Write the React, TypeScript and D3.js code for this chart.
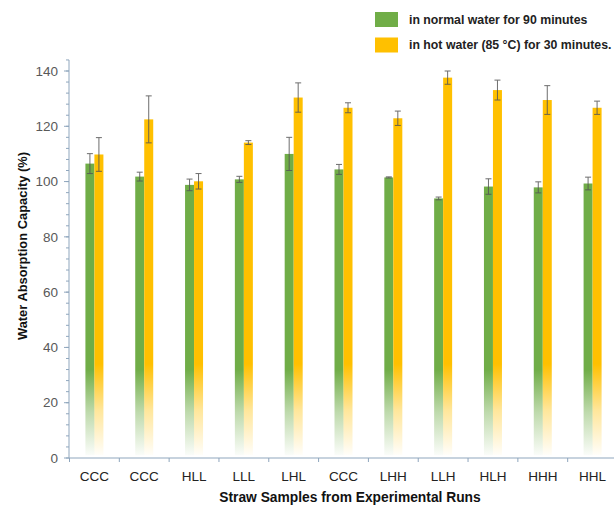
import React from "react";
import * as d3 from "d3";

const categories = ["CCC", "CCC", "HLL", "LLL", "LHL", "CCC", "LHH", "LLH", "HLH", "HHH", "HHL"];
const normalValues = [106.5, 101.8, 98.8, 100.8, 110.0, 104.4, 101.5, 93.9, 98.2, 97.9, 99.3];
const normalErrors = [3.6, 1.6, 2.1, 1.1, 6.0, 1.8, 0.2, 0.5, 2.8, 2.0, 2.3];
const hotValues = [109.8, 122.5, 100.1, 114.1, 130.4, 126.7, 122.9, 137.6, 133.1, 129.5, 126.7];
const hotErrors = [6.1, 8.5, 2.8, 0.7, 5.3, 1.8, 2.6, 2.4, 3.6, 5.2, 2.4];
const yTicks = [0, 20, 40, 60, 80, 100, 120, 140];
const legendLabels = ["in normal water for 90 minutes", "in hot water (85 °C) for 30 minutes."];

const GREEN = "#70AD47";
const YELLOW = "#FFC000";

export default function App() {
  const W = 614, H = 515;
  const y = d3.scaleLinear().domain([0, 140]).range([458, 71]);
  const x = d3.scaleBand<number>().domain(categories.map((_, i) => i)).range([69.5, 617.5]).padding(0);
  const bw = 9;
  const minor = d3.range(0, 145, 4);
  const font = "'Liberation Sans', Arial, sans-serif";

  const series = [
    { vals: normalValues, errs: normalErrors, color: GREEN, id: "gG", off: -bw },
    { vals: hotValues, errs: hotErrors, color: YELLOW, id: "gY", off: 0 },
  ];

  return (
    <svg width={W} height={H} style={{ position: "absolute", left: 0, top: 0, background: "#fff" }} fontFamily={font}>
      <defs>
        <linearGradient id="gG" gradientUnits="userSpaceOnUse" x1="0" x2="0" y1={y(32)} y2={y(1)}>
          <stop offset="0" stopColor={GREEN} stopOpacity={1} />
          <stop offset="0.5" stopColor={GREEN} stopOpacity={0.45} />
          <stop offset="1" stopColor={GREEN} stopOpacity={0.03} />
        </linearGradient>
        <linearGradient id="gY" gradientUnits="userSpaceOnUse" x1="0" x2="0" y1={y(34)} y2={y(1)}>
          <stop offset="0" stopColor={YELLOW} stopOpacity={1} />
          <stop offset="0.5" stopColor={YELLOW} stopOpacity={0.4} />
          <stop offset="1" stopColor={YELLOW} stopOpacity={0.02} />
        </linearGradient>
      </defs>

      {/* y axis */}
      <line x1={69} x2={69} y1={y(144)} y2={458} stroke="#8FA6BD" strokeWidth={1} />
      {minor.map((t) => (
        <line key={"m" + t} x1={66} x2={69} y1={y(t)} y2={y(t)} stroke="#8FA6BD" strokeWidth={1} />
      ))}
      {yTicks.map((t) => (
        <g key={"t" + t}>
          <line x1={64} x2={69} y1={y(t)} y2={y(t)} stroke="#8FA6BD" strokeWidth={1} />
          <text x={58} y={y(t)} dy="0.35em" textAnchor="end" fontSize={13.5} fill="#595959">{t}</text>
        </g>
      ))}

      {/* x axis */}
      <line x1={69} x2={614} y1={458} y2={458} stroke="#8FA6BD" strokeWidth={1} />
      {categories.map((c, i) => (
        <g key={"x" + i}>
          <line x1={(x(i) as number)} x2={(x(i) as number)} y1={458} y2={462} stroke="#8FA6BD" strokeWidth={1} />
          <text x={(x(i) as number) + x.bandwidth() / 2} y={481} textAnchor="middle" fontSize={13.5} fill="#222">{c}</text>
        </g>
      ))}

      {/* bars */}
      {series.map((s) =>
        s.vals.map((v, i) => {
          const cx = (x(i) as number) + x.bandwidth() / 2;
          const x0 = cx + s.off;
          return (
            <rect key={s.id + i} x={x0} y={y(v)} width={bw} height={y(1) - y(v)} fill={`url(#${s.id})`} />
          );
        })
      )}
      {/* error bars */}
      {series.map((s) =>
        s.vals.map((v, i) => {
          const cx = (x(i) as number) + x.bandwidth() / 2 + s.off + bw / 2;
          const e = s.errs[i];
          return (
            <g key={"e" + s.id + i} stroke="#555" strokeWidth={1} opacity={0.85}>
              <line x1={cx} x2={cx} y1={y(v + e)} y2={y(v - e)} />
              <line x1={cx - 3} x2={cx + 3} y1={y(v + e)} y2={y(v + e)} />
              <line x1={cx - 3} x2={cx + 3} y1={y(v - e)} y2={y(v - e)} />
            </g>
          );
        })
      )}

      {/* legend */}
      {[GREEN, YELLOW].map((c, i) => (
        <g key={"lg" + i}>
          <rect x={375} y={12 + i * 25.5} width={23} height={15} fill={c} />
          <text x={409} y={19.5 + i * 25.5} dy="0.35em" fontSize={12.3} fontWeight="bold" fill="#222">{legendLabels[i]}</text>
        </g>
      ))}

      {/* titles */}
      <text transform={`translate(22, 246) rotate(-90)`} textAnchor="middle" dy="0.35em" fontSize={12.9} fontWeight="bold" fill="#111">
        Water Absorption Capacity (%)
      </text>
      <text x={350} y={502} textAnchor="middle" fontSize={13.8} fontWeight="bold" fill="#111">
        Straw Samples from Experimental Runs
      </text>
    </svg>
  );
}
